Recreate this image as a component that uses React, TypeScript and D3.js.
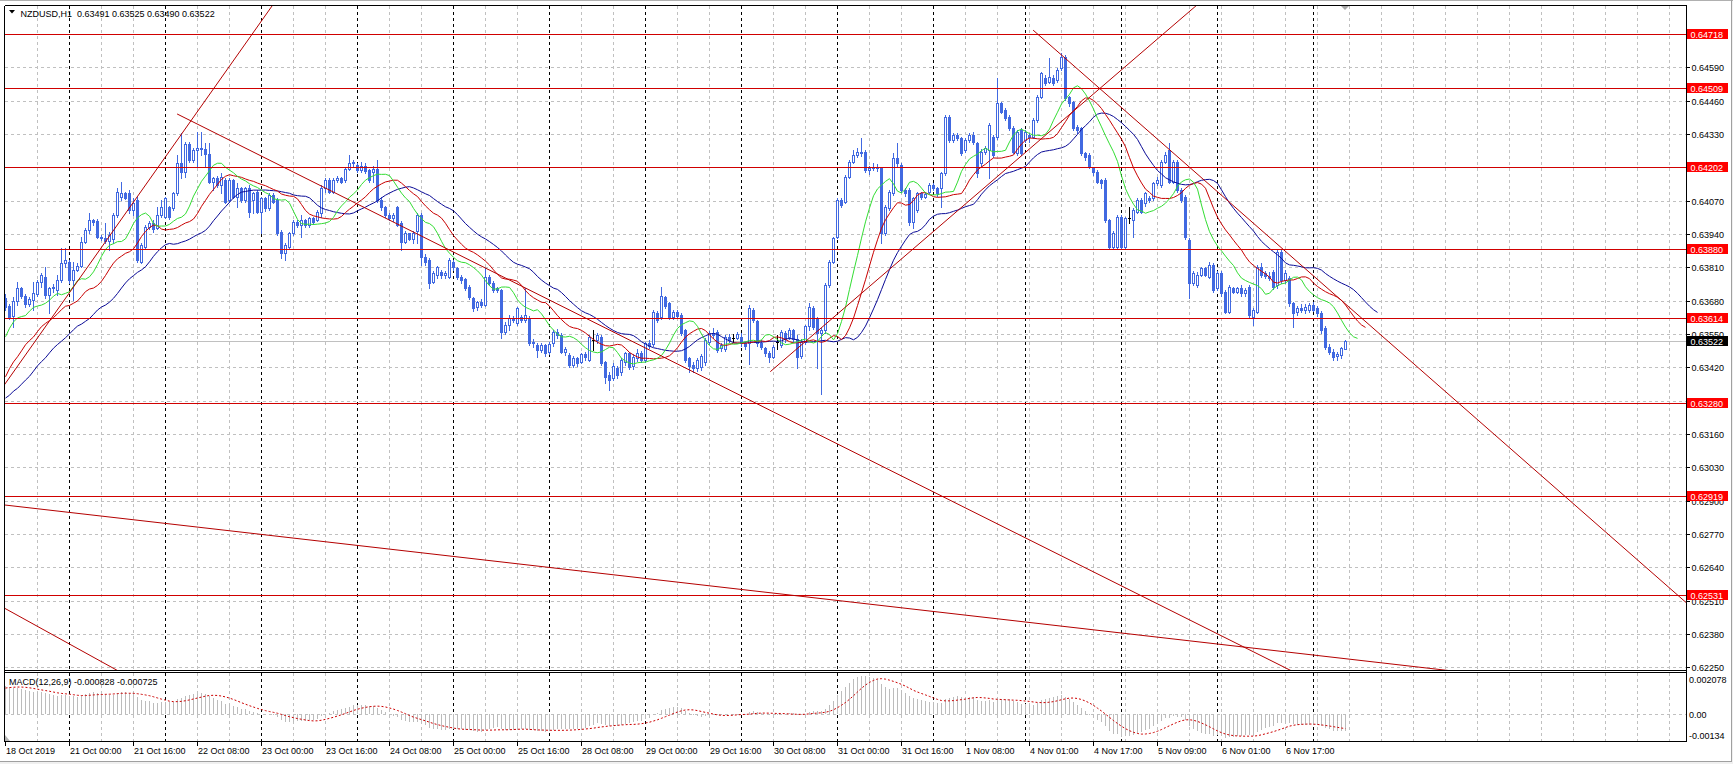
import React from "react";
import * as d3 from "d3";

// Prices are stored in points (0.00001) above 0.60000
const BASE = 0.6;
const PT = 0.00001;

const opens = [
  3690,3660,3620,3680,3728,3700,3665,3682,3705,3754,
  3773,3702,3728,3721,3760,3825,3830,3760,3800,3815,
  3910,3955,3994,3990,3929,3925,3912,3920,4014,4085,
  4098,4098,4033,4072,3832,3890,3968,3981,3965,4014,
  4007,4046,4040,4098,4215,4180,4290,4228,4267,4275,
  4270,4250,4144,4157,4131,4150,4072,4150,4085,4118,
  4072,4118,4072,4105,4027,4079,4040,4092,4072,3949,
  3864,3890,3942,3988,3975,3994,3975,4001,3995,4020,
  4118,4150,4105,4150,4157,4150,4195,4215,4210,4189,
  4205,4189,4182,4195,4072,4046,4014,4001,4046,3981,
  3910,3942,3920,3950,4014,3851,3838,3754,3780,3790,
  3780,3773,3830,3806,3773,3765,3734,3689,3656,3676,
  3663,3773,3747,3728,3721,3559,3585,3611,3591,3617,
  3604,3611,3513,3507,3487,3507,3480,3513,3559,3546,
  3481,3468,3429,3455,3440,3470,3450,3526,3526,3539,
  3440,3390,3380,3416,3400,3440,3474,3425,3455,3474,
  3448,3513,3510,3630,3617,3695,3669,3617,3637,3624,
  3565,3455,3430,3416,3420,3440,3520,3552,3559,3495,
  3490,3539,3535,3535,3540,3513,3515,3643,3600,3513,
  3494,3474,3461,3520,3507,3552,3540,3565,3530,3465,
  3520,3580,3650,3611,3552,3565,3741,3832,3930,4072,
  4066,4163,4222,4248,4261,4261,4189,4196,4202,4196,
  3942,4040,4098,4235,4209,4111,4111,3988,4033,4098,
  4085,4105,4131,4118,4118,4176,4397,4306,4326,4313,
  4267,4306,4326,4293,4215,4261,4267,4319,4319,4449,
  4423,4397,4352,4254,4345,4306,4326,4319,4384,4475,
  4547,4534,4547,4541,4586,4631,4475,4456,4358,4352,
  4254,4248,4196,4183,4150,4150,3994,3890,3890,4007,
  3890,4001,3994,4027,4072,4059,4079,4079,4137,4131,
  4222,4267,4144,4222,4111,4085,3916,3747,3741,3780,
  3806,3773,3819,3728,3786,3715,3637,3728,3715,3728,
  3708,3734,3617,3637,3812,3786,3776,3793,3740,3871,
  3760,3767,3669,3637,3650,3643,3643,3663,3650,3630,
  3572,3500,3481,3465,3468,3491,
];
const highs = [
  3705,3668,3695,3754,3735,3705,3695,3754,3760,3786,
  3812,3735,3745,3780,3884,3884,3840,3830,3825,3929,
  3965,4020,4000,3998,3935,3981,3949,4020,4118,4144,
  4105,4111,4079,4085,3903,3975,3990,3994,4046,4072,
  4085,4050,4105,4248,4332,4300,4300,4275,4338,4338,
  4293,4293,4163,4165,4176,4160,4157,4155,4137,4124,
  4124,4131,4105,4110,4085,4085,4098,4098,4079,3955,
  3903,3949,3994,3994,4014,4000,4007,4007,4033,4131,
  4157,4157,4157,4165,4163,4200,4248,4230,4215,4220,
  4215,4195,4205,4228,4085,4050,4020,4020,4050,3990,
  3950,3945,3950,4020,4020,3860,3845,3795,3815,3800,
  3795,3845,3840,3812,3780,3770,3740,3695,3680,3685,
  3806,3780,3755,3735,3725,3595,3624,3620,3655,3625,
  3728,3620,3530,3515,3515,3512,3520,3565,3570,3552,
  3500,3475,3465,3462,3475,3480,3545,3565,3555,3545,
  3445,3400,3435,3425,3455,3480,3480,3470,3490,3485,
  3520,3525,3645,3640,3734,3700,3675,3645,3645,3630,
  3570,3460,3440,3455,3470,3533,3560,3572,3565,3515,
  3545,3550,3550,3558,3555,3520,3663,3650,3605,3525,
  3500,3485,3507,3545,3565,3560,3575,3570,3545,3530,
  3585,3669,3660,3617,3575,3747,3840,3930,4080,4080,
  4170,4230,4267,4274,4313,4268,4205,4215,4212,4202,
  4053,4111,4254,4293,4215,4118,4118,4085,4105,4105,
  4105,4137,4140,4125,4183,4404,4404,4335,4335,4320,
  4313,4335,4339,4300,4270,4285,4372,4326,4547,4456,
  4430,4405,4360,4345,4352,4345,4335,4391,4482,4573,
  4560,4625,4560,4586,4644,4638,4480,4460,4365,4358,
  4260,4254,4200,4190,4155,4157,4000,3950,4014,4014,
  4007,4046,4040,4080,4080,4105,4090,4144,4163,4228,
  4260,4293,4230,4228,4118,4092,3923,3795,3790,3812,
  3812,3830,3825,3795,3795,3720,3740,3734,3734,3740,
  3728,3740,3650,3820,3825,3795,3790,3800,3880,3880,
  3800,3775,3675,3660,3665,3665,3670,3675,3660,3640,
  3580,3510,3490,3480,3500,3525,
];
const lows = [
  3645,3610,3578,3663,3690,3655,3660,3643,3700,3734,
  3689,3630,3715,3702,3754,3812,3750,3682,3795,3810,
  3905,3942,3975,3923,3918,3903,3877,3905,4007,4072,
  4075,4020,4014,3832,3825,3885,3960,3949,3960,4007,
  4001,4000,4033,4092,4157,4163,4222,4220,4202,4248,
  4202,4137,4111,4125,4098,4060,4066,4080,4046,4066,
  4066,4007,4020,4020,3942,4030,4035,4060,3936,3845,
  3838,3884,3936,3968,3929,3968,3968,3980,3990,4007,
  4105,4098,4100,4144,4137,4144,4189,4205,4180,4180,
  4176,4144,4144,4066,4035,4005,3995,3990,3970,3877,
  3905,3915,3903,3903,3819,3819,3728,3747,3770,3770,
  3770,3767,3800,3765,3750,3720,3685,3640,3645,3655,
  3658,3740,3715,3715,3533,3550,3565,3595,3585,3598,
  3598,3507,3500,3461,3480,3465,3470,3505,3535,3475,
  3468,3420,3420,3425,3435,3450,3445,3487,3515,3430,
  3360,3330,3370,3380,3390,3430,3415,3415,3445,3440,
  3440,3495,3505,3598,3610,3650,3610,3610,3612,3545,
  3440,3400,3400,3405,3410,3430,3510,3535,3480,3485,
  3485,3518,3520,3530,3505,3490,3432,3595,3505,3490,
  3465,3440,3455,3490,3500,3520,3530,3520,3416,3455,
  3510,3565,3570,3416,3314,3552,3735,3825,3925,4045,
  4060,4157,4215,4240,4245,4180,4175,4190,4185,3903,
  3935,4035,4092,4205,4105,4090,3975,3962,4025,4078,
  4080,4098,4110,4090,4046,4170,4300,4300,4305,4248,
  4260,4300,4290,4163,4205,4250,4157,4240,4310,4410,
  4385,4345,4254,4248,4248,4300,4300,4313,4378,4469,
  4520,4527,4520,4534,4579,4462,4440,4345,4335,4248,
  4230,4196,4170,4137,4120,3988,3884,3884,3884,3880,
  3884,3981,3929,4020,4020,4050,4065,4072,4130,4125,
  4215,4137,4137,4105,4066,3920,3689,3740,3735,3775,
  3775,3767,3715,3720,3700,3630,3630,3708,3708,3700,
  3700,3617,3585,3630,3773,3770,3760,3725,3730,3750,
  3750,3660,3578,3625,3635,3630,3635,3640,3620,3555,
  3490,3470,3450,3450,3455,3490,
];
const closes = [
  3655,3617,3680,3728,3700,3665,3685,3708,3754,3780,
  3702,3728,3734,3760,3825,3838,3760,3800,3815,3910,
  3955,3994,3985,3929,3925,3912,3936,4014,4105,4098,
  4080,4033,4059,3838,3897,3968,3981,3960,4014,4046,
  4079,4007,4098,4215,4180,4290,4228,4267,4275,4270,
  4250,4144,4157,4131,4163,4066,4150,4085,4118,4072,
  4118,4027,4098,4027,4079,4040,4092,4066,3942,3864,
  3897,3942,3988,3975,3994,3975,4001,3988,4027,4118,
  4150,4105,4150,4157,4144,4195,4215,4222,4189,4205,
  4185,4150,4195,4072,4046,4014,4001,4014,3975,3910,
  3942,3920,3945,4014,3851,3830,3747,3786,3810,3780,
  3786,3838,3810,3773,3760,3730,3695,3650,3676,3663,
  3773,3747,3721,3721,3559,3585,3611,3604,3650,3604,
  3624,3513,3520,3487,3507,3474,3510,3559,3545,3481,
  3490,3429,3455,3435,3470,3460,3539,3526,3546,3435,
  3383,3370,3425,3390,3448,3474,3422,3461,3474,3448,
  3513,3505,3637,3604,3700,3660,3617,3637,3620,3552,
  3448,3425,3416,3448,3465,3526,3552,3545,3487,3507,
  3539,3526,3535,3550,3513,3505,3650,3604,3513,3500,
  3474,3461,3500,3520,3559,3530,3565,3530,3461,3520,
  3580,3656,3578,3552,3565,3741,3832,3923,4072,4053,
  4163,4222,4248,4261,4254,4189,4196,4202,4196,3942,
  4046,4105,4235,4215,4111,4098,3988,4079,4098,4085,
  4095,4131,4118,4098,4176,4397,4306,4326,4313,4254,
  4306,4326,4300,4176,4261,4274,4365,4248,4449,4417,
  4391,4352,4261,4339,4254,4339,4320,4384,4475,4566,
  4527,4553,4527,4579,4631,4469,4449,4352,4345,4254,
  4241,4202,4183,4144,4137,3994,3890,3942,4007,3890,
  4001,4001,4033,4072,4027,4098,4072,4137,4150,4222,
  4248,4144,4222,4111,4072,3929,3747,3786,3780,3806,
  3780,3819,3721,3786,3708,3637,3734,3715,3728,3708,
  3721,3624,3643,3812,3780,3776,3767,3734,3871,3760,
  3786,3669,3630,3650,3643,3656,3663,3645,3630,3565,
  3500,3481,3461,3470,3494,3522,
];

// Alligator lines: values (points)
const lipsLead = [3539, 3572, 3597];
const teethLead = [3383, 3415, 3441, 3461, 3484];
const jawLead = [3300, 3311, 3327, 3338, 3354, 3370, 3385, 3405];

// MACD starting state read from the sub-window
const ema12Seed = 0.6358;
const ema26Seed = 0.63435;
const macdLead = [0.0011, 0.00115, 0.0012, 0.00125, 0.0013, 0.00134, 0.00138, 0.00142];

const levelPrices = [0.64718, 0.64509, 0.64202, 0.6388, 0.63614, 0.6328, 0.62919, 0.62531];
const levelLabels = ["0.64718", "0.64509", "0.64202", "0.63880", "0.63614", "0.63280", "0.62919", "0.62531"];
const currentPrice = 0.63522;
const currentLabel = "0.63522";

const priceTickLabels = [
  "0.62250","0.62380","0.62510","0.62640","0.62770","0.62900","0.63030","0.63160","0.63290","0.63420",
  "0.63550","0.63680","0.63810","0.63940","0.64070","0.64200","0.64330","0.64460","0.64590","0.64720",
];

const timeLabels = [
  "18 Oct 2019","21 Oct 00:00","21 Oct 16:00","22 Oct 08:00","23 Oct 00:00","23 Oct 16:00","24 Oct 08:00",
  "25 Oct 00:00","25 Oct 16:00","28 Oct 08:00","29 Oct 00:00","29 Oct 16:00","30 Oct 08:00","31 Oct 00:00",
  "31 Oct 16:00","1 Nov 08:00","4 Nov 01:00","4 Nov 17:00","5 Nov 09:00","6 Nov 01:00","6 Nov 17:00",
];
const timeLabelBars = [0,16,32,48,64,80,96,112,128,144,160,176,192,208,224,240,256,272,288,304,320];
const daySeparatorBars = [16,40,64,88,112,136,160,184,208,232,255,279,303,327];

// trend lines: [bar1, price1, bar2, price2, extendBackwards(1/0)]
const trendLines = [
  [11.6, 0.63614, 61.6, 0.64718, 1],
  [42.9, 0.64408, 320.75, 0.62242, 0],
  [-0.2, 0.62883, 348.7, 0.62259, 1],
  [-0.3, 0.62481, 27.7, 0.6224, 1],
  [191.2, 0.63403, 273.7, 0.64509, 0],
  [256.9, 0.64735, 419.9, 0.62506, 0],
];

const macdTitle = "MACD(12,26,9) -0.000828 -0.000725";
const macdAxis = [["0.002078", 682.5], ["0.00", 717.5], ["-0.00134", 738.5]];
const title = "NZDUSD,H1  0.63491 0.63525 0.63490 0.63522";

const BLUE = "#4169e1";
const FONT = "'Liberation Sans', Arial, sans-serif";

export default function App() {
  const L = 4.5, T = 5.5, R = 1686.5, MB = 670.5, MT = 672.5, MBOT = 741.5;
  const x = d3.scaleLinear().domain([0, 420]).range([5.3, 1685.3]);
  const y = d3.scaleLinear().domain([0.6225, 0.6459]).range([667.3, 67.3]);
  const yM = d3.scaleLinear().domain([-0.00134, 0.002078]).range([741, 672]);
  const P = (v: number) => BASE + v * PT;
  const cx = (i: number) => Math.round(x(i));
  const xs = (b: number) => x(b) + 0.2;
  const ry = (p: number) => Math.round(y(p));

  // Alligator (SMMA of median price)
  const medians = highs.map((h, i) => (h + lows[i]) / 2);
  const maPath = (lead: number[], n: number, shift: number) => {
    const pts: [number, number][] = lead.map((v, k) => [k - lead.length + shift, v]);
    let prev = lead[lead.length - 1];
    medians.forEach((m, i) => {
      prev = (prev * (n - 1) + m) / n;
      pts.push([i + shift, prev]);
    });
    return d3.line<[number, number]>().x((d) => xs(d[0])).y((d) => y(P(d[1])))(pts) || "";
  };

  // MACD
  let e12 = ema12Seed, e26 = ema26Seed;
  const macd = closes.map((c) => {
    const p = P(c);
    e12 += (2 / 13) * (p - e12);
    e26 += (2 / 27) * (p - e26);
    return e12 - e26;
  });
  const mAll = macdLead.concat(macd);
  const signal = macd.map((_, i) => d3.mean(mAll.slice(i, i + 9)) as number);
  const signalPath = d3.line<number>().x((_, i) => xs(i)).y((d) => yM(d))(signal) || "";

  const gridBars = d3.range(8, 420, 8);
  const yZero = Math.round(yM(0)) + 0.5;

  const candles = closes.map((c, i) => {
    const o = opens[i];
    const X = cx(i);
    const yh = Math.round(y(P(Math.max(highs[i], o, c))));
    const yl = Math.round(y(P(Math.min(lows[i], o, c))));
    const yo = Math.round(y(P(o)));
    const yc = Math.round(y(P(c)));
    if (o === c) {
      return (
        <g key={i} stroke="#000" strokeWidth={1}>
          <line x1={X + 0.5} x2={X + 0.5} y1={yh} y2={yl + 1} />
          <line x1={X - 1} x2={X + 2} y1={yo + 0.5} y2={yo + 0.5} />
        </g>
      );
    }
    if (c < o) {
      return (
        <g key={i}>
          <line x1={X + 0.5} x2={X + 0.5} y1={yh} y2={yl + 1} stroke={BLUE} />
          <rect x={X - 1} y={yo} width={3} height={Math.max(1, yc - yo + 1)} fill={BLUE} />
        </g>
      );
    }
    return (
      <g key={i}>
        <line x1={X + 0.5} x2={X + 0.5} y1={yh} y2={yl + 1} stroke={BLUE} />
        <rect x={X - 0.5} y={yc + 0.5} width={2} height={Math.max(0, yo - yc)} fill="#fff" stroke={BLUE} />
      </g>
    );
  });

  const trendPaths = trendLines.map((t) => {
    const [b1, p1, b2, p2, back] = t;
    const db = b2 - b1, dp = p2 - p1;
    const k = 20;
    const sb = back ? b1 - k * db : b1;
    const sp = back ? p1 - k * dp : p1;
    const eb = b1 + k * db, ep = p1 + k * dp;
    return `M${xs(sb)},${y(sp)}L${xs(eb)},${y(ep)}`;
  });

  return (
    <svg
      width={1733}
      height={764}
      style={{ position: "absolute", left: 0, top: 0, display: "block" }}
      fontFamily={FONT}
      fontSize={9}
    >
      <defs>
        <clipPath id="mainClip">
          <rect x={5} y={6} width={1681} height={664} />
        </clipPath>
        <clipPath id="macdClip">
          <rect x={5} y={673} width={1681} height={68} />
        </clipPath>
      </defs>
      <rect x={0} y={0} width={1733} height={764} fill="#fff" />
      <rect x={1731} y={0} width={2} height={764} fill="#f0f0f0" />
      <rect x={0} y={762} width={1733} height={2} fill="#f0f0f0" />
      <line x1={0} x2={1733} y1={0.5} y2={0.5} stroke="#b0b0b0" />
      <line x1={1731.5} x2={1731.5} y1={0} y2={762} stroke="#a0a0a0" />
      <line x1={0} x2={1732} y1={761.5} y2={761.5} stroke="#a0a0a0" />

      {/* grid main */}
      <g shapeRendering="crispEdges">
        {gridBars.map((b) => (
          <g key={"g" + b} stroke="#c0c0c0" strokeDasharray="3,3">
            <line x1={cx(b) + 0.5} x2={cx(b) + 0.5} y1={6} y2={670} />
            <line x1={cx(b) + 0.5} x2={cx(b) + 0.5} y1={673} y2={741} />
          </g>
        ))}
        {priceTickLabels.map((s) => (
          <line key={"h" + s} x1={5} x2={1686} y1={ry(+s) + 0.5} y2={ry(+s) + 0.5} stroke="#c0c0c0" strokeDasharray="3,3" />
        ))}
        <line x1={5} x2={1686} y1={yZero} y2={yZero} stroke="#c0c0c0" strokeDasharray="3,3" />
        {daySeparatorBars.map((b) => (
          <g key={"d" + b} stroke="#000" strokeDasharray="3,3">
            <line x1={cx(b) + 0.5} x2={cx(b) + 0.5} y1={6} y2={670} />
            <line x1={cx(b) + 0.5} x2={cx(b) + 0.5} y1={673} y2={741} />
          </g>
        ))}
        <line x1={5} x2={1686} y1={ry(currentPrice) + 0.5} y2={ry(currentPrice) + 0.5} stroke="#c0c0c0" />
      </g>

      {/* candles */}
      <g clipPath="url(#mainClip)" shapeRendering="crispEdges">{candles}</g>

      {/* alligator */}
      <g clipPath="url(#mainClip)" fill="none" strokeWidth={1}>
        <path d={maPath(jawLead, 13, 8)} stroke="#0a0a96" />
        <path d={maPath(teethLead, 8, 5)} stroke="#c80000" />
        <path d={maPath(lipsLead, 5, 3)} stroke="#33dd33" />
      </g>

      {/* horizontal levels & trend lines */}
      <g clipPath="url(#mainClip)">
        {levelPrices.map((p) => (
          <line key={"l" + p} x1={5} x2={1686} y1={ry(p) + 0.5} y2={ry(p) + 0.5} stroke="#d00000" shapeRendering="crispEdges" />
        ))}
        {trendPaths.map((d, i) => (
          <path key={"t" + i} d={d} stroke="#b40000" strokeWidth={1} fill="none" />
        ))}
      </g>

      {/* MACD */}
      <g clipPath="url(#macdClip)">
        <g shapeRendering="crispEdges" stroke="#bcbcbc">
          {macd.map((v, i) => (
            <line key={"m" + i} x1={cx(i) + 0.5} x2={cx(i) + 0.5} y1={yZero - 0.5} y2={Math.round(yM(v))} />
          ))}
        </g>
        <path d={signalPath} fill="none" stroke="#cc0000" strokeDasharray="2,2" />
        <polygon points="5,741 5,735 10,741" fill="#b4b4b4" />
      </g>

      {/* frames */}
      <g fill="none" stroke="#000" shapeRendering="crispEdges">
        <line x1={L} x2={L} y1={T} y2={MBOT} />
        <line x1={R} x2={R} y1={T} y2={MBOT} />
        <line x1={L} x2={R} y1={T} y2={T} />
        <line x1={L} x2={R} y1={MB} y2={MB} />
        <line x1={L} x2={R} y1={MT} y2={MT} />
        <line x1={L} x2={R} y1={MBOT} y2={MBOT} />
      </g>

      {/* chart shift marker */}
      <polygon points="1341,6 1349,6 1345,10" fill="#a8a8a8" />

      {/* title */}
      <polygon points="9,10 15,10 12,13.5" fill="#000" />
      <text x={20.5} y={16.5} fill="#000" style={{ whiteSpace: "pre" }}>{title}</text>
      <text x={9} y={685} fill="#000">{macdTitle}</text>

      {/* price axis */}
      <g shapeRendering="crispEdges">
        {priceTickLabels.map((s) => (
          <g key={"pl" + s}>
            <line x1={1687} x2={1690} y1={ry(+s) + 0.5} y2={ry(+s) + 0.5} stroke="#000" />
            <text x={1691.5} y={ry(+s) + 3.5} fill="#000">{s}</text>
          </g>
        ))}
        {levelPrices.map((p, i) => (
          <g key={"lb" + p}>
            <rect x={1687} y={ry(p) - 5} width={41} height={10} fill="#ff0000" />
            <text x={1690.5} y={ry(p) + 3.5} fill="#fff">{levelLabels[i]}</text>
          </g>
        ))}
        <rect x={1687} y={ry(currentPrice) - 5} width={41} height={10} fill="#000" />
        <text x={1690.5} y={ry(currentPrice) + 3.5} fill="#fff">{currentLabel}</text>
        {macdAxis.map(([s, yy]) => (
          <text key={"ma" + s} x={1689} y={yy as number} fill="#000">{s}</text>
        ))}
      </g>

      {/* time axis */}
      <g shapeRendering="crispEdges">
        {timeLabelBars.map((b, i) => (
          <g key={"tl" + b}>
            <line x1={cx(b) + 0.5} x2={cx(b) + 0.5} y1={742} y2={746} stroke="#000" />
            <text x={cx(b) + 1} y={754} fill="#000">{timeLabels[i]}</text>
          </g>
        ))}
      </g>
    </svg>
  );
}
